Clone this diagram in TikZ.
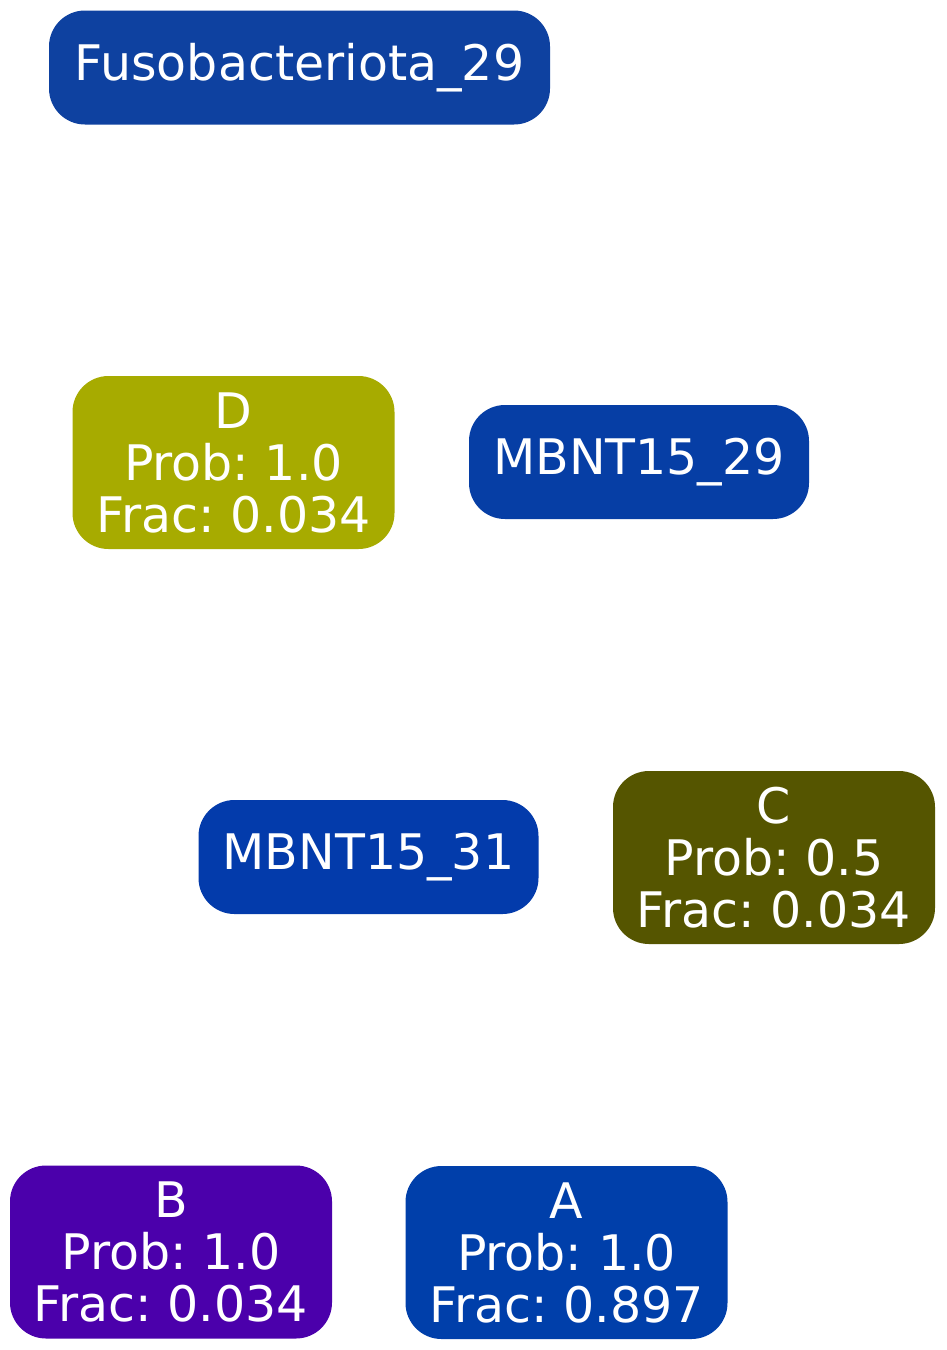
\documentclass[tikz,border=0pt]{standalone}
\usepackage{fontspec}
\setmainfont{DejaVu Sans}
\usepackage{tikz}
\usetikzlibrary{positioning}
\frenchspacing

\definecolor{fusoblue}{HTML}{0E41A0}
\definecolor{mbntblueA}{HTML}{063EA5}
\definecolor{mbntblueB}{HTML}{033BAB}
\definecolor{cloneA}{HTML}{003FAA}
\definecolor{cloneB}{HTML}{4B00AB}
\definecolor{cloneC}{HTML}{555500}
\definecolor{cloneD}{HTML}{A7AB00}

\tikzset{
  taxon/.style={rectangle,rounded corners=36pt,draw=none,text=white,align=center,inner sep=0pt,
    font=\fontsize{49}{52}\selectfont,minimum width=#1},
  taxon/.default=340pt,
  clone/.style={taxon=322pt,minimum height=173pt},
  group/.style={minimum height=114pt}
}

\begin{document}
\begin{tikzpicture}[x=1pt,y=-1pt]
\useasboundingbox[fill=white] (0,0) rectangle (946,1350);
\node[taxon=501pt,group,fill=fusoblue] (fuso29) at (299.5,67.5) {Fusobacteriota\_29};
\node[clone,fill=cloneD] (D) at (233.5,462.5) {D\\Prob: 1.0\\Frac: 0.034};
\node[taxon,group,fill=mbntblueA] (mbnt29) at (639,462) {MBNT15\_29};

\node[taxon,group,fill=mbntblueB] (mbnt31) at (368.5,857) {MBNT15\_31};
\node[clone,fill=cloneC] (C) at (774,857.5) {C\\Prob: 0.5\\Frac: 0.034};

\node[clone,fill=cloneB] (B) at (171,1252) {B\\Prob: 1.0\\Frac: 0.034};
\node[clone,fill=cloneA] (A) at (566.5,1252.5) {A\\Prob: 1.0\\Frac: 0.897};
\end{tikzpicture}
\end{document}
